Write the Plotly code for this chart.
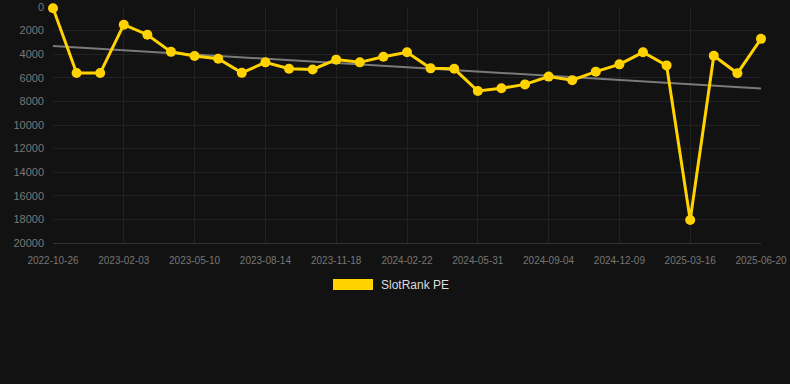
import numpy as np
import plotly.graph_objects as go

dates = ["2022-10-26", "2022-11-28", "2022-12-31", "2023-02-03", "2023-03-08", "2023-04-07",
         "2023-05-10", "2023-06-12", "2023-07-13", "2023-08-14", "2023-09-16", "2023-10-17",
         "2023-11-18", "2023-12-21", "2024-01-21", "2024-02-22", "2024-03-26", "2024-04-28",
         "2024-05-31", "2024-07-03", "2024-08-03", "2024-09-04", "2024-10-07", "2024-11-07",
         "2024-12-09", "2025-01-10", "2025-02-12", "2025-03-16", "2025-04-18", "2025-05-19",
         "2025-06-20"]
rank = [100, 5600, 5600, 1500, 2350, 3800, 4150, 4380, 5580, 4690, 5230, 5290,
        4460, 4690, 4210, 3840, 5200, 5240, 7120, 6890, 6560, 5900, 6210, 5480,
        4860, 3840, 4950, 18050, 4130, 5620, 2700]
tick_labels = dates[::3]
y_ticks = [0, 2000, 4000, 6000, 8000, 10000, 12000, 14000, 16000, 18000, 20000]
y_tick_text = [str(v) for v in y_ticks]

idx = np.arange(len(dates))
slope, intercept = np.polyfit(idx, rank, 1)
trend = slope * idx + intercept

gold = "#FFD200"
fig = go.Figure()
fig.add_trace(go.Scatter(x=dates, y=trend, mode="lines",
                         line=dict(color="#7a7a7a", width=2), hoverinfo="skip",
                         showlegend=False))
fig.add_trace(go.Scatter(x=dates, y=rank, mode="lines+markers", name="SlotRank PE",
                         line=dict(color=gold, width=3),
                         marker=dict(color=gold, size=10), showlegend=False,
                         cliponaxis=False))

fig.update_layout(
    width=790, height=384,
    paper_bgcolor="#121212", plot_bgcolor="#121212",
    margin=dict(l=53, r=29, t=7, b=141),
    font=dict(family="Liberation Sans, Arial, sans-serif", color="#777777", size=11),
    xaxis=dict(type="category", tickmode="array", tickvals=tick_labels, ticktext=tick_labels,
               range=[0, len(dates) - 1], showgrid=True, gridcolor="#222222", gridwidth=1,
               zeroline=False, showline=True, linecolor="#333333", ticks="",
               automargin=False, ticklabelstandoff=8,
               tickfont=dict(size=10, color="#777777")),
    yaxis=dict(autorange=False, range=[20000, 0], tickmode="array",
               tickvals=y_ticks, ticktext=y_tick_text, automargin=False,
               ticklabelstandoff=8,
               showgrid=True, gridcolor="#222222", zeroline=False, showline=False,
               ticks="", tickfont=dict(size=11, color="#777777")),
    shapes=[dict(type="rect", xref="paper", yref="paper",
                 x0=(333 - 53) / 708, x1=(373 - 53) / 708,
                 y0=(384 - 141 - 290) / 236, y1=(384 - 141 - 279) / 236,
                 fillcolor=gold, line=dict(width=0))],
    annotations=[dict(text="SlotRank PE", xref="paper", yref="paper",
                      x=(379 - 53) / 708, y=(384 - 141 - 285) / 236,
                      xanchor="left", yanchor="middle", showarrow=False,
                      font=dict(size=12, color="#dddddd"))],
)
fig.write_html("out.html", config={"displayModeBar": False},
               post_script="document.body.style.margin='0';document.body.style.background='#121212';")
